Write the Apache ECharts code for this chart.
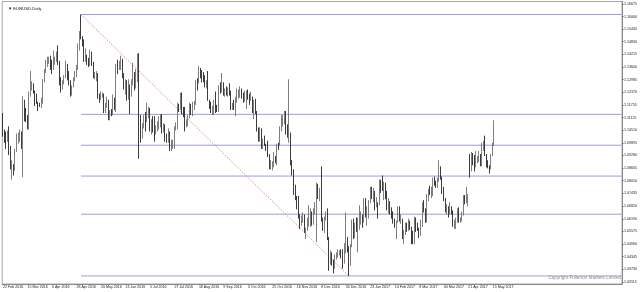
<!DOCTYPE html>
<html><head><meta charset="utf-8">
<script src="https://cdn.jsdelivr.net/npm/echarts@6/dist/echarts.min.js"></script>
<style>html,body{margin:0;padding:0;background:#fff}#c{width:640px;height:292px}</style>
</head><body><div id="c"></div>
<script>
const TITLE = '\u25BC EURUSD,Daily';
const COPYRIGHT = 'Copyright Fullerton Markets Limited';
const START_DATE = '2016-02-22';
const TOTAL_SLOTS = 405;
const X_TICK_EVERY = 16;
const X_TICK_LABELS = ['22 Feb 2016','15 Mar 2016','6 Apr 2016','28 Apr 2016','20 May 2016','13 Jun 2016','5 Jul 2016','27 Jul 2016','18 Aug 2016','9 Sep 2016','3 Oct 2016','25 Oct 2016','16 Nov 2016','8 Dec 2016','30 Dec 2016','23 Jan 2017','14 Feb 2017','8 Mar 2017','30 Mar 2017','21 Apr 2017','15 May 2017'];
const Y_TICK_LABELS = ['1.16675','1.16060','1.15445','1.14830','1.14215','1.13600','1.12985','1.12370','1.11755','1.11125','1.10510','1.09895','1.09280','1.08665','1.08050','1.07435','1.06820','1.06190','1.05575','1.04960','1.04345','1.03730','1.03115'];
const Y_MIN = 1.03007, Y_MAX = 1.16794;
const FIB_RATIOS = [100, 61.8, 50, 38.2, 23.6, 0];
const FIB_LABELS = ['100.0','61.8','50.0','38.2','23.6','0.0'];
const LAST_PRICE_TEXT = '1.10964';

// rows: [open, high, low, close]
const OHLC_2016_02 = [
[1.1130,1.1135,1.1020,1.1025],[1.1025,1.1055,1.0990,1.1020],[1.1020,1.1045,1.0960,1.1015],[1.1015,1.1050,1.0995,1.1025],[1.1025,1.1070,1.0930,1.0935],[1.0935,1.0975,1.0860,1.0870]];
const OHLC_2016_03 = [
[1.0870,1.0905,1.0810,1.0870],[1.0870,1.0885,1.0830,1.0865],[1.0865,1.0960,1.0855,1.0955],[1.0955,1.1035,1.0945,1.1005],
[1.1005,1.1040,1.0985,1.1010],[1.1010,1.1055,1.0995,1.1010],[1.1010,1.1045,1.0960,1.0995],[1.0995,1.1217,1.0822,1.1177],[1.1177,1.1200,1.1095,1.1150],
[1.1150,1.1160,1.1090,1.1105],[1.1105,1.1125,1.1055,1.1090],[1.1090,1.1240,1.1055,1.1230],[1.1230,1.1340,1.1215,1.1270],[1.1270,1.1290,1.1245,1.1270],
[1.1270,1.1280,1.1230,1.1240],[1.1240,1.1245,1.1170,1.1220],[1.1220,1.1230,1.1180,1.1185],[1.1185,1.1190,1.1145,1.1175],[1.1175,1.1185,1.1165,1.1165],
[1.1165,1.1210,1.1160,1.1200],[1.1200,1.1300,1.1180,1.1295],[1.1295,1.1350,1.1285,1.1330],[1.1330,1.1395,1.1330,1.1380]];
const OHLC_2016_04 = [
[1.1380,1.1410,1.1360,1.1390],
[1.1390,1.1410,1.1375,1.1390],[1.1390,1.1415,1.1345,1.1375],[1.1375,1.1395,1.1325,1.1350],[1.1350,1.1440,1.1345,1.1375],[1.1375,1.1410,1.1370,1.1400],
[1.1400,1.1435,1.1385,1.1410],[1.1410,1.1465,1.1370,1.1385],[1.1385,1.1390,1.1270,1.1275],[1.1275,1.1310,1.1235,1.1265],[1.1265,1.1295,1.1250,1.1285],
[1.1285,1.1320,1.1275,1.1315],[1.1315,1.1390,1.1305,1.1355],[1.1355,1.1375,1.1295,1.1300],[1.1300,1.1340,1.1270,1.1290],[1.1290,1.1295,1.1215,1.1225],
[1.1225,1.1270,1.1220,1.1265],[1.1265,1.1310,1.1260,1.1300],[1.1300,1.1340,1.1290,1.1320],[1.1320,1.1370,1.1310,1.1350],[1.1350,1.1475,1.1345,1.1450]];
const OHLC_2016_05 = [
[1.1450,1.1535,1.1440,1.1530],[1.1530,1.1616,1.1495,1.1500],[1.1500,1.1510,1.1460,1.1490],[1.1490,1.1495,1.1385,1.1405],[1.1405,1.1450,1.1385,1.1405],
[1.1405,1.1420,1.1370,1.1385],[1.1385,1.1405,1.1360,1.1375],[1.1375,1.1445,1.1365,1.1430],[1.1430,1.1435,1.1365,1.1370],[1.1370,1.1385,1.1305,1.1310],
[1.1310,1.1335,1.1300,1.1315],[1.1315,1.1340,1.1290,1.1320],[1.1320,1.1330,1.1205,1.1215],[1.1215,1.1230,1.1185,1.1205],[1.1205,1.1240,1.1200,1.1225],
[1.1225,1.1235,1.1210,1.1225],[1.1225,1.1230,1.1135,1.1140],[1.1140,1.1185,1.1135,1.1180],[1.1180,1.1215,1.1160,1.1195],[1.1195,1.1200,1.1100,1.1115],
[1.1115,1.1150,1.1100,1.1135],[1.1135,1.1155,1.1120,1.1130]];
const OHLC_2016_06 = [
[1.1130,1.1225,1.1125,1.1190],[1.1190,1.1210,1.1150,1.1150],[1.1150,1.1375,1.1140,1.1365],
[1.1365,1.1395,1.1325,1.1355],[1.1355,1.1390,1.1345,1.1385],[1.1385,1.1415,1.1345,1.1395],[1.1395,1.1400,1.1305,1.1315],[1.1315,1.1330,1.1250,1.1255],
[1.1255,1.1300,1.1225,1.1285],[1.1285,1.1295,1.1195,1.1210],[1.1210,1.1300,1.1200,1.1260],[1.1260,1.1275,1.1130,1.1225],[1.1225,1.1300,1.1215,1.1275],
[1.1275,1.1380,1.1270,1.1310],[1.1310,1.1335,1.1245,1.1270],[1.1270,1.1350,1.1255,1.1295],[1.1295,1.1425,1.1285,1.1380],[1.1380,1.1427,1.0912,1.1115],
[1.1115,1.1125,1.0990,1.1020],[1.1020,1.1085,1.1010,1.1065],[1.1065,1.1125,1.1060,1.1120],[1.1120,1.1140,1.1045,1.1105]];
const OHLC_2016_07 = [
[1.1105,1.1185,1.1090,1.1135],
[1.1135,1.1165,1.1110,1.1150],[1.1150,1.1160,1.1045,1.1065],[1.1065,1.1105,1.1030,1.1090],[1.1090,1.1120,1.1040,1.1060],[1.1060,1.1120,1.0995,1.1050],
[1.1050,1.1075,1.1030,1.1055],[1.1055,1.1095,1.1045,1.1065],[1.1065,1.1120,1.1055,1.1095],[1.1095,1.1130,1.1065,1.1125],[1.1125,1.1130,1.1035,1.1040],
[1.1040,1.1085,1.1040,1.1075],[1.1075,1.1080,1.0995,1.1020],[1.1020,1.1035,1.0990,1.1010],[1.1010,1.1060,1.0990,1.1025],[1.1025,1.1045,1.0950,1.0975],
[1.0975,1.1005,1.0950,1.0990],[1.0990,1.1005,1.0960,1.0995],[1.0995,1.1070,1.0960,1.1060],[1.1060,1.1090,1.1050,1.1070],[1.1070,1.1185,1.1055,1.1175]];
const OHLC_2016_08 = [
[1.1175,1.1180,1.1140,1.1160],[1.1160,1.1235,1.1150,1.1225],[1.1225,1.1235,1.1130,1.1150],[1.1150,1.1165,1.1115,1.1130],[1.1130,1.1165,1.1045,1.1085],
[1.1085,1.1105,1.1065,1.1085],[1.1085,1.1125,1.1070,1.1115],[1.1115,1.1185,1.1110,1.1175],[1.1175,1.1180,1.1125,1.1135],[1.1135,1.1190,1.1120,1.1160],
[1.1160,1.1195,1.1150,1.1180],[1.1180,1.1295,1.1175,1.1290],[1.1290,1.1305,1.1245,1.1285],[1.1285,1.1365,1.1280,1.1350],[1.1350,1.1355,1.1305,1.1325],
[1.1325,1.1345,1.1285,1.1315],[1.1315,1.1335,1.1285,1.1310],[1.1310,1.1320,1.1260,1.1265],[1.1265,1.1295,1.1255,1.1285],[1.1285,1.1340,1.1195,1.1200],
[1.1200,1.1200,1.1155,1.1185],[1.1185,1.1190,1.1135,1.1150],[1.1150,1.1170,1.1125,1.1160]];
const OHLC_2016_09 = [
[1.1160,1.1200,1.1125,1.1195],[1.1195,1.1240,1.1135,1.1155],
[1.1155,1.1175,1.1140,1.1150],[1.1150,1.1270,1.1140,1.1255],[1.1255,1.1285,1.1230,1.1240],[1.1240,1.1330,1.1235,1.1260],[1.1260,1.1285,1.1220,1.1235],
[1.1235,1.1255,1.1215,1.1235],[1.1235,1.1265,1.1220,1.1225],[1.1225,1.1260,1.1215,1.1245],[1.1245,1.1280,1.1220,1.1240],[1.1240,1.1245,1.1150,1.1155],
[1.1155,1.1185,1.1150,1.1170],[1.1170,1.1200,1.1150,1.1155],[1.1155,1.1215,1.1120,1.1190],[1.1190,1.1255,1.1185,1.1210],[1.1210,1.1250,1.1205,1.1225],
[1.1225,1.1265,1.1210,1.1250],[1.1250,1.1255,1.1205,1.1215],[1.1215,1.1235,1.1185,1.1210],[1.1210,1.1245,1.1190,1.1225],[1.1225,1.1245,1.1155,1.1240]];
const OHLC_2016_10 = [
[1.1240,1.1250,1.1200,1.1210],[1.1210,1.1230,1.1175,1.1205],[1.1205,1.1240,1.1195,1.1205],[1.1205,1.1215,1.1135,1.1140],[1.1140,1.1200,1.1105,1.1200],
[1.1200,1.1205,1.1130,1.1140],[1.1140,1.1145,1.1045,1.1055],[1.1055,1.1065,1.0995,1.1010],[1.1010,1.1065,1.0995,1.1055],[1.1055,1.1060,1.0960,1.0970],
[1.0970,1.1010,1.0960,1.1000],[1.1000,1.1025,1.0975,1.0975],[1.0975,1.0985,1.0950,1.0970],[1.0970,1.1000,1.0920,1.0930],[1.0930,1.0935,1.0860,1.0880],
[1.0880,1.0905,1.0860,1.0880],[1.0880,1.0900,1.0855,1.0880],[1.0880,1.0945,1.0870,1.0920],[1.0920,1.0925,1.0890,1.0895],[1.0895,1.0985,1.0880,1.0985],
[1.0985,1.0990,1.0955,1.0980]];
const OHLC_2016_11 = [
[1.0980,1.1070,1.0975,1.1055],[1.1055,1.1125,1.1045,1.1095],[1.1095,1.1125,1.1070,1.1100],[1.1100,1.1145,1.1080,1.1140],
[1.1140,1.1145,1.1030,1.1040],[1.1040,1.1080,1.1015,1.1020],[1.1020,1.1300,1.0990,1.1030],[1.1030,1.1040,1.0880,1.0900],[1.0900,1.0905,1.0830,1.0855],
[1.0855,1.0860,1.0735,1.0740],[1.0740,1.0785,1.0710,1.0720],[1.0720,1.0730,1.0665,1.0690],[1.0690,1.0730,1.0620,1.0625],[1.0625,1.0640,1.0570,1.0590],
[1.0590,1.0635,1.0585,1.0625],[1.0625,1.0650,1.0600,1.0630],[1.0630,1.0640,1.0550,1.0555],[1.0555,1.0575,1.0520,1.0565],[1.0565,1.0625,1.0560,1.0590],
[1.0590,1.0685,1.0580,1.0615],[1.0615,1.0670,1.0580,1.0645],[1.0645,1.0655,1.0585,1.0590]];
const OHLC_2016_12 = [
[1.0590,1.0670,1.0590,1.0665],[1.0665,1.0700,1.0640,1.0665],
[1.0665,1.0795,1.0505,1.0735],[1.0735,1.0790,1.0715,1.0720],[1.0720,1.0770,1.0705,1.0760],[1.0760,1.0875,1.0605,1.0615],[1.0615,1.0625,1.0560,1.0560],
[1.0560,1.0630,1.0550,1.0630],[1.0630,1.0655,1.0610,1.0635],[1.0635,1.0670,1.0515,1.0525],[1.0525,1.0530,1.0365,1.0410],[1.0410,1.0465,1.0395,1.0450],
[1.0450,1.0455,1.0390,1.0400],[1.0400,1.0420,1.0352,1.0380],[1.0380,1.0445,1.0375,1.0425],[1.0425,1.0455,1.0420,1.0435],[1.0435,1.0470,1.0430,1.0455],
[1.0455,1.0465,1.0440,1.0455],[1.0455,1.0470,1.0425,1.0450],[1.0450,1.0470,1.0375,1.0410],[1.0410,1.0500,1.0400,1.0495],[1.0495,1.0650,1.0450,1.0520]];
const OHLC_2017_01 = [
[1.0520,1.0530,1.0455,1.0460],[1.0460,1.0485,1.0340,1.0405],[1.0405,1.0495,1.0390,1.0490],[1.0490,1.0615,1.0480,1.0605],[1.0605,1.0620,1.0520,1.0530],
[1.0530,1.0600,1.0525,1.0575],[1.0575,1.0625,1.0555,1.0555],[1.0555,1.0625,1.0455,1.0585],[1.0585,1.0685,1.0565,1.0615],[1.0615,1.0655,1.0590,1.0640],
[1.0640,1.0640,1.0575,1.0605],[1.0605,1.0720,1.0600,1.0715],[1.0715,1.0720,1.0625,1.0630],[1.0630,1.0680,1.0585,1.0660],[1.0660,1.0710,1.0620,1.0700],
[1.0700,1.0775,1.0695,1.0760],[1.0760,1.0775,1.0715,1.0730],[1.0730,1.0770,1.0700,1.0745],[1.0745,1.0755,1.0660,1.0680],[1.0680,1.0725,1.0675,1.0695],
[1.0695,1.0700,1.0620,1.0690],[1.0690,1.0810,1.0685,1.0800]];
const OHLC_2017_02 = [
[1.0800,1.0810,1.0745,1.0765],[1.0765,1.0830,1.0755,1.0760],[1.0760,1.0800,1.0710,1.0785],
[1.0785,1.0795,1.0715,1.0750],[1.0750,1.0755,1.0660,1.0680],[1.0680,1.0720,1.0645,1.0700],[1.0700,1.0705,1.0640,1.0665],[1.0665,1.0675,1.0620,1.0640],
[1.0640,1.0655,1.0595,1.0600],[1.0600,1.0620,1.0575,1.0575],[1.0575,1.0610,1.0520,1.0605],[1.0605,1.0680,1.0600,1.0675],[1.0675,1.0680,1.0605,1.0615],
[1.0615,1.0640,1.0595,1.0615],[1.0615,1.0620,1.0520,1.0540],[1.0540,1.0565,1.0495,1.0555],[1.0555,1.0600,1.0540,1.0585],[1.0585,1.0600,1.0555,1.0560],
[1.0560,1.0620,1.0560,1.0605],[1.0605,1.0610,1.0565,1.0575]];
const OHLC_2017_03 = [
[1.0575,1.0580,1.0495,1.0545],[1.0545,1.0560,1.0495,1.0505],[1.0505,1.0630,1.0495,1.0620],
[1.0620,1.0625,1.0555,1.0580],[1.0580,1.0600,1.0560,1.0565],[1.0565,1.0575,1.0525,1.0545],[1.0545,1.0615,1.0535,1.0580],[1.0580,1.0700,1.0580,1.0670],
[1.0670,1.0710,1.0650,1.0660],[1.0660,1.0670,1.0600,1.0605],[1.0605,1.0740,1.0600,1.0735],[1.0735,1.0765,1.0705,1.0765],[1.0765,1.0780,1.0735,1.0740],
[1.0740,1.0775,1.0720,1.0740],[1.0740,1.0820,1.0730,1.0810],[1.0810,1.0825,1.0780,1.0795],[1.0795,1.0805,1.0770,1.0780],[1.0780,1.0820,1.0770,1.0800],
[1.0800,1.0905,1.0800,1.0865],[1.0865,1.0875,1.0810,1.0815],[1.0815,1.0825,1.0740,1.0765],[1.0765,1.0775,1.0705,1.0715],[1.0715,1.0720,1.0650,1.0650]];
const OHLC_2017_04 = [
[1.0650,1.0690,1.0640,1.0665],[1.0665,1.0680,1.0625,1.0645],[1.0645,1.0700,1.0640,1.0665],[1.0665,1.0680,1.0640,1.0645],[1.0645,1.0660,1.0580,1.0590],
[1.0590,1.0615,1.0570,1.0600],[1.0600,1.0625,1.0570,1.0610],[1.0610,1.0670,1.0600,1.0665],[1.0665,1.0675,1.0600,1.0615],[1.0615,1.0625,1.0600,1.0615],
[1.0615,1.0655,1.0605,1.0645],[1.0645,1.0735,1.0635,1.0730],[1.0730,1.0735,1.0690,1.0715],[1.0715,1.0775,1.0695,1.0715],[1.0715,1.0740,1.0680,1.0725],
[1.0865,1.0935,1.0820,1.0855],[1.0855,1.0945,1.0850,1.0930],[1.0930,1.0940,1.0880,1.0890],[1.0890,1.0930,1.0850,1.0870],[1.0870,1.0950,1.0870,1.0895]];
const OHLC_2017_05 = [
[1.0895,1.0925,1.0890,1.0905],[1.0905,1.0950,1.0895,1.0930],[1.0930,1.0935,1.0875,1.0880],[1.0880,1.0990,1.0875,1.0985],[1.0985,1.1000,1.0950,1.0995],
[1.1010,1.1025,1.0925,1.0925],[1.0925,1.0935,1.0870,1.0875],[1.0875,1.0905,1.0865,1.0870],[1.0870,1.0880,1.0840,1.0865],[1.0865,1.0935,1.0860,1.0930],
[1.0930,1.0990,1.0925,1.0980],[1.0980,1.1100,1.0975,1.10964]];

const OHLC = [].concat(OHLC_2016_02, OHLC_2016_03, OHLC_2016_04, OHLC_2016_05, OHLC_2016_06, OHLC_2016_07,
  OHLC_2016_08, OHLC_2016_09, OHLC_2016_10, OHLC_2016_11, OHLC_2016_12, OHLC_2017_01, OHLC_2017_02,
  OHLC_2017_03, OHLC_2017_04, OHLC_2017_05);

// weekday calendar slots (chart leaves empty slots to the right)
const DATES = [];
(function () {
  const d = new Date(START_DATE + 'T00:00:00Z');
  while (DATES.length < TOTAL_SLOTS) {
    const wd = d.getUTCDay();
    if (wd !== 0 && wd !== 6) DATES.push(d.toISOString().slice(0, 10));
    d.setUTCDate(d.getUTCDate() + 1);
  }
})();

const LAST = OHLC.length - 1;
let hiIdx = 0, loIdx = 0;
OHLC.forEach((r, i) => { if (r[1] > OHLC[hiIdx][1]) hiIdx = i; if (r[2] < OHLC[loIdx][2]) loIdx = i; });
const SWING_HIGH = OHLC[hiIdx][1], SWING_LOW = OHLC[loIdx][2];

const candleData = OHLC.map(r => [r[0], r[3], r[2], r[1]]);
const FONT = 'Liberation Sans';
const showTick = (i) => i % X_TICK_EVERY === 0 && i <= LAST;

const fibSeries = FIB_RATIOS.map((r, k) => {
  const level = SWING_LOW + (SWING_HIGH - SWING_LOW) * r / 100;
  return {
    type: 'line', silent: true, symbol: 'none', animation: false, z: 3,
    lineStyle: { color: '#9c9ce2', width: 1 },
    data: [[hiIdx, level], { value: [TOTAL_SLOTS - 1, level],
      label: { show: true, position: 'top', align: 'right', distance: 0.5, formatter: FIB_LABELS[k],
        fontFamily: FONT, fontSize: 3.8, color: '#6c6cc4' } }]
  };
});

const chart = echarts.init(document.getElementById('c'), null, { renderer: 'canvas' });
chart.setOption({
  animation: false,
  backgroundColor: '#fff',
  title: { text: TITLE, left: 3, top: 2, textStyle: { fontFamily: FONT, fontSize: 4.2, fontWeight: 'normal', color: '#111' } },
  grid: { left: 1, right: 18, top: 1.5, bottom: 8, show: true, borderColor: '#a8a8a8', borderWidth: 1 },
  xAxis: {
    type: 'category', data: DATES, boundaryGap: true,
    axisLine: { lineStyle: { color: '#8a8a8a', width: 1 } },
    axisTick: { interval: showTick, alignWithLabel: true, length: 1.5, lineStyle: { color: '#666' } },
    axisLabel: { interval: showTick, formatter: (v, i) => X_TICK_LABELS[i / X_TICK_EVERY], align: 'left', margin: 1.2,
      fontFamily: FONT, fontSize: 3.6, color: '#222' },
    splitLine: { show: false }
  },
  yAxis: {
    type: 'value', position: 'right', min: Y_MIN, max: Y_MAX, scale: true,
    axisLine: { show: true, lineStyle: { color: '#8a8a8a', width: 1 } },
    axisTick: { show: true, customValues: Y_TICK_LABELS.map(Number), length: 1.5, lineStyle: { color: '#666' } },
    axisLabel: { customValues: Y_TICK_LABELS.map(Number), formatter: v => v.toFixed(5), margin: 2,
      fontFamily: FONT, fontSize: 3.6, color: '#222' },
    splitLine: { show: false }
  },
  graphic: [{ type: 'text', right: 19, top: 275.5, silent: true,
    style: { text: COPYRIGHT, fontFamily: FONT, fontSize: 4.6, fill: '#8c8c8c' } }],
  series: [
    {
      type: 'candlestick', data: candleData, barWidth: 1.3, z: 4,
      itemStyle: { color: '#d8d8d8', color0: '#111111', borderColor: '#707070', borderColor0: '#262626', borderWidth: 0.9 },
      markLine: {
        silent: true, symbol: 'none', animation: false,
        lineStyle: { opacity: 0 },
        label: { show: true, position: 'end', distance: 1, formatter: LAST_PRICE_TEXT, fontFamily: FONT, fontSize: 3.6,
          color: '#fff', backgroundColor: '#000', padding: [0.8, 1.5] },
        data: [{ yAxis: OHLC[LAST][3] }]
      }
    },
    {
      type: 'line', silent: true, symbol: 'none', animation: false, z: 2,
      lineStyle: { color: '#e46a6a', width: 0.8, type: [1.5, 1.5] },
      data: [[hiIdx, SWING_HIGH], [loIdx, SWING_LOW]]
    }
  ].concat(fibSeries)
});
</script></body></html>
